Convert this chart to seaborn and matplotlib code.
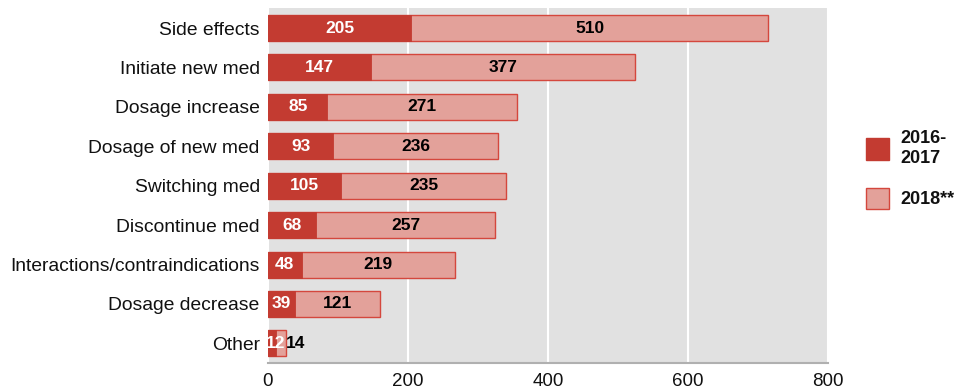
import matplotlib
matplotlib.use("Agg")
import matplotlib.pyplot as plt
import matplotlib.patches as mpatches
import seaborn as sns
import pandas as pd

categories = ["Side effects", "Initiate new med", "Dosage increase", "Dosage of new med",
              "Switching med", "Discontinue med", "Interactions/contraindications",
              "Dosage decrease", "Other"]
values_2016_2017 = [205, 147, 85, 93, 105, 68, 48, 39, 12]
values_2018 = [510, 377, 271, 236, 235, 257, 219, 121, 14]
series_names = ["2016-\n2017", "2018**"]
x_ticks = [0, 200, 400, 600, 800]

dark_red = "#c33b31"
light_red = "#e3a19a"
edge_red = "#d4473d"
text_color = "#111111"

df = pd.DataFrame({"category": categories, "early": values_2016_2017, "late": values_2018})
df["total"] = df["early"] + df["late"]

sns.set_theme(style="darkgrid")
plt.rcParams["font.family"] = ["Liberation Sans", "DejaVu Sans"]

fig = plt.figure(figsize=(9.66, 3.9), dpi=100)
ax = fig.add_axes([0.2774, 0.069, 0.5797, 0.9097])
ax.set_facecolor("#e1e1e1")

# full stacked length in the light colour, then the earlier period over its left part
sns.barplot(data=df, y="category", x="total", orient="h", color=light_red, saturation=1,
            width=0.66, edgecolor=edge_red, linewidth=1.0, ax=ax)
sns.barplot(data=df, y="category", x="early", orient="h", color=dark_red, saturation=1,
            width=0.66, edgecolor=dark_red, linewidth=0.6, ax=ax)

# segment labels centred in each part; very short segments get their labels spread apart
min_gap = 29
for i, row in df.iterrows():
    x_early = row["early"] / 2
    x_late = row["early"] + row["late"] / 2
    if x_late - x_early < min_gap:
        x_early = max(x_early, 11)
        x_late = x_early + min_gap
    ax.text(x_early, i, str(row["early"]), ha="center", va="center",
            color="white", fontsize=12.5, fontweight="bold")
    ax.text(x_late, i, str(row["late"]), ha="center", va="center",
            color="black", fontsize=12.5, fontweight="bold")

ax.set_xlim(0, 800)
ax.set_ylim(8.5, -0.5)
ax.set_xticks(x_ticks)
ax.set_xticklabels([str(t) for t in x_ticks], fontsize=13.5)
ax.tick_params(axis="y", labelsize=13.9, length=0, pad=6, labelcolor=text_color)
ax.tick_params(axis="x", length=0, pad=7, labelcolor=text_color)
ax.set_xlabel("")
ax.set_ylabel("")
ax.grid(axis="y", visible=False)
ax.grid(axis="x", color="white", linewidth=1.5)
ax.set_axisbelow(True)
for side in ["top", "right", "left"]:
    ax.spines[side].set_visible(False)
ax.spines["bottom"].set_visible(True)
ax.spines["bottom"].set_color("#b0b0b0")
ax.spines["bottom"].set_linewidth(1.5)

handles = [mpatches.Patch(facecolor=dark_red, edgecolor=dark_red, label=series_names[0]),
           mpatches.Patch(facecolor=light_red, edgecolor=edge_red, label=series_names[1])]
leg = fig.legend(handles=handles, loc="center left", bbox_to_anchor=(0.88, 0.565),
                 frameon=False, handlelength=1.25, handleheight=1.45, handletextpad=0.65,
                 labelspacing=1.15, prop={"size": 13, "weight": "bold"},
                 labelcolor=text_color)

fig.savefig("out.png", dpi=100, facecolor="white")
